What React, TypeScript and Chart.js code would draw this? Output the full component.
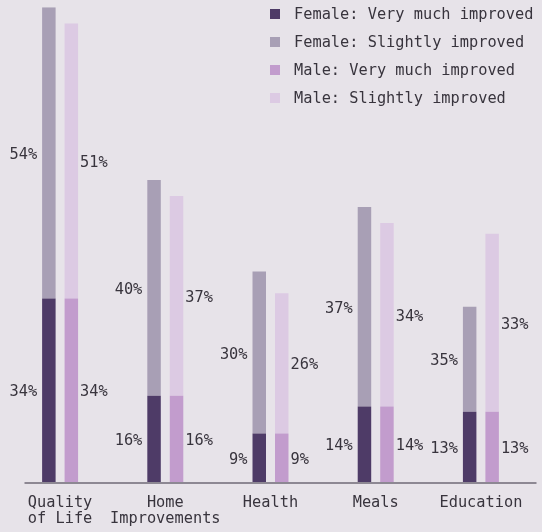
import React, { useEffect, useRef } from "react";
import { Chart, registerables } from "chart.js";

Chart.register(...registerables);

const categories: (string | string[])[] = [
  ["Quality", "of Life"],
  ["Home", "Improvements"],
  "Health",
  "Meals",
  "Education",
];

const seriesNames = [
  "Female: Very much improved",
  "Female: Slightly improved",
  "Male: Very much improved",
  "Male: Slightly improved",
];

const femaleVeryMuch = [34, 16, 9, 14, 13];
const femaleSlightly = [54, 40, 30, 37, 19.5];
const maleVeryMuch = [34, 16, 9, 14, 13];
const maleSlightly = [51, 37, 26, 34, 33];

const femaleVeryMuchLabels = ["34%", "16%", "9%", "14%", "13%"];
const femaleSlightlyLabels = ["54%", "40%", "30%", "37%", "35%"];
const maleVeryMuchLabels = ["34%", "16%", "9%", "14%", "13%"];
const maleSlightlyLabels = ["51%", "37%", "26%", "34%", "33%"];

const colors = ["#4e3b67", "#a89fb5", "#c29ccd", "#dccae3"];
const BG = "#e7e3e9";
const TEXT = "#38343d";
const FONT = "'DejaVu Sans Mono', 'Liberation Mono', monospace";

const labelSets = [femaleVeryMuchLabels, femaleSlightlyLabels, maleVeryMuchLabels, maleSlightlyLabels];

const axisLinePlugin = {
  id: "axisLine",
  beforeDatasetsDraw(chart: any) {
    const { ctx, chartArea } = chart;
    ctx.save();
    ctx.strokeStyle = "#8d8893";
    ctx.lineWidth = 2;
    ctx.beginPath();
    ctx.moveTo(chartArea.left + 17, chartArea.bottom + 1);
    ctx.lineTo(chartArea.right + 3, chartArea.bottom + 1);
    ctx.stroke();
    ctx.restore();
  },
};

const dataLabelPlugin = {
  id: "dataLabels",
  afterDatasetsDraw(chart: any) {
    const { ctx } = chart;
    ctx.save();
    ctx.font = `15.3px ${FONT}`;
    ctx.fillStyle = TEXT;
    ctx.textBaseline = "middle";
    chart.data.datasets.forEach((ds: any, di: number) => {
      const meta = chart.getDatasetMeta(di);
      const isFemale = ds.stack === "F";
      meta.data.forEach((el: any, i: number) => {
        const p = el.getProps(["x", "y", "base", "width"], true);
        const cy = (p.y + p.base) / 2 + 2;
        const txt = labelSets[di][i];
        if (isFemale) {
          ctx.textAlign = "right";
          ctx.fillText(txt, p.x - p.width / 2 - 5, cy);
        } else {
          ctx.textAlign = "left";
          ctx.fillText(txt, p.x + p.width / 2 + 2, cy);
        }
      });
    });
    ctx.restore();
  },
};

const legendPlugin = {
  id: "customLegend",
  afterDraw(chart: any) {
    const { ctx } = chart;
    ctx.save();
    ctx.font = `15.3px ${FONT}`;
    ctx.textBaseline = "middle";
    ctx.textAlign = "left";
    chart.data.datasets.forEach((ds: any, i: number) => {
      const cy = 14 + i * 28;
      ctx.fillStyle = ds.backgroundColor;
      ctx.fillRect(270, cy - 5, 10, 10);
      ctx.fillStyle = TEXT;
      ctx.fillText(ds.label, 294, cy + 1);
    });
    ctx.restore();
  },
};

export default function App() {
  const ref = useRef<HTMLCanvasElement | null>(null);
  useEffect(() => {
    if (!ref.current) return;
    const chart = new Chart(ref.current, {
      type: "bar",
      data: {
        labels: categories,
        datasets: [
          { label: seriesNames[0], data: femaleVeryMuch, backgroundColor: colors[0], stack: "F" },
          { label: seriesNames[1], data: femaleSlightly, backgroundColor: colors[1], stack: "F" },
          { label: seriesNames[2], data: maleVeryMuch, backgroundColor: colors[2], stack: "M" },
          { label: seriesNames[3], data: maleSlightly, backgroundColor: colors[3], stack: "M" },
        ],
      },
      options: {
        animation: false,
        responsive: false,
        maintainAspectRatio: false,
        layout: { padding: { left: 7.5, right: 8.5, top: 7.3, bottom: 0 } },
        datasets: { bar: { categoryPercentage: 0.4275, barPercentage: 0.6 } },
        plugins: {
          legend: { display: false },
          tooltip: { enabled: false },
          title: { display: false },
        },
        scales: {
          x: {
            stacked: true,
            grid: { display: false, drawTicks: false },
            border: { display: false },
            ticks: {
              color: TEXT,
              font: { family: FONT, size: 15.3, lineHeight: 1.05 },
              padding: 13,
              maxRotation: 0,
              autoSkip: false,
            },
            afterFit: (scale: any) => {
              scale.height = 50;
            },
          },
          y: {
            stacked: true,
            display: false,
            min: 0,
            max: 88,
          },
        },
      },
      plugins: [axisLinePlugin, dataLabelPlugin, legendPlugin],
    });
    return () => chart.destroy();
  }, []);
  return (
    <div style={{ position: "absolute", left: 0, top: 0, width: 542, height: 532, background: BG }}>
      <canvas ref={ref} width={542} height={532} style={{ display: "block" }} />
    </div>
  );
}
